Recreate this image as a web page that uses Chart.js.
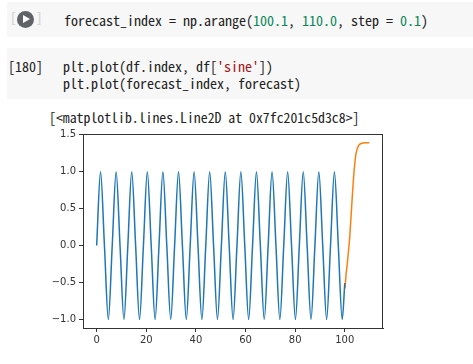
<!DOCTYPE html>
<html>
<head>
<meta charset="utf-8">
<script src="https://cdn.jsdelivr.net/npm/chart.js@4"></script>
<style>
  body { margin: 0; background: #fff; width: 473px; height: 364px; position: relative; overflow: hidden; }
  .cell { position: absolute; left: 7px; right: 0; background: #f7f7f7; }
  .code { position: absolute; font-family: "Noto Sans Mono CJK KR", "DejaVu Sans Mono", monospace; font-size: 14px; color: #222; white-space: pre; line-height: 16.5px; }
  .num { color: #098658; }
  .str { color: #a31515; }
  .brk { position: absolute; font-family: "DejaVu Sans Mono", monospace; font-size: 14px; color: #d6d6d6; }
  .run { position: absolute; left: 17px; top: 11px; width: 17px; height: 17px; border-radius: 50%; background: #5f6368; }
  .run:after { content: ""; position: absolute; left: 6px; top: 4px; border-left: 7px solid #fff; border-top: 4.5px solid transparent; border-bottom: 4.5px solid transparent; }
  #chart { position: absolute; left: 40px; top: 125px; }
</style>
</head>
<body>
<div class="cell" style="top:2px;height:35px"></div>
<div class="brk" style="left:9px;top:10px">[</div>
<div class="brk" style="left:35px;top:10px">]</div>
<div class="run"></div>
<div class="code" style="left:64px;top:12px">forecast_index = np.arange(<span class="num">100.1</span>, <span class="num">110.0</span>, step = <span class="num">0.1</span>)</div>

<div class="cell" style="top:48px;height:51px"></div>
<div class="code" style="left:8px;top:58px">[180]</div>
<div class="code" style="left:63px;top:58px">plt.plot(df.index, df[<span class="str">'sine'</span>])
plt.plot(forecast_index, forecast)</div>
<div class="code" style="left:49px;top:109px;font-size:13.8px">[&lt;matplotlib.lines.Line2D at 0x7fc201c5d3c8&gt;]</div>

<canvas id="chart" width="360" height="225"></canvas>
<script>
// df['sine']: zero crossings and extrema
const sineX = [0, 1.57, 3.14, 4.71, 6.28, 7.85, 9.42, 11.00, 12.57, 14.14, 15.71, 17.28,
  18.85, 20.42, 21.99, 23.56, 25.13, 26.70, 28.27, 29.85, 31.42, 32.99, 34.56, 36.13,
  37.70, 39.27, 40.84, 42.41, 43.98, 45.55, 47.12, 48.69, 50.27, 51.84, 53.41, 54.98,
  56.55, 58.12, 59.69, 61.26, 62.83, 64.40, 65.97, 67.54, 69.12, 70.69, 72.26, 73.83,
  75.40, 76.97, 78.54, 80.11, 81.68, 83.25, 84.82, 86.39, 87.96, 89.54, 91.11, 92.68,
  94.25, 95.82, 97.39, 98.96, 100.0];
const sineY = [0, 1, 0, -1, 0, 1, 0, -1, 0, 1, 0, -1, 0, 1, 0, -1,
  0, 1, 0, -1, 0, 1, 0, -1, 0, 1, 0, -1, 0, 1, 0, -1,
  0, 1, 0, -1, 0, 1, 0, -1, 0, 1, 0, -1, 0, 1, 0, -1,
  0, 1, 0, -1, 0, 1, 0, -1, 0, 1, 0, -1, 0, 1, 0, -1, -0.51];

// forecast
const forecastX = [100.1, 100.5, 101.0, 101.5, 102.0, 102.5, 103.0, 103.5, 104.0, 104.5, 105.0, 105.5, 106.0, 107.0, 108.0, 109.9];
const forecastY = [-0.58, -0.40, -0.25, -0.07, 0.12, 0.38, 0.65, 0.90, 1.10, 1.24, 1.31, 1.35, 1.37, 1.385, 1.39, 1.39];

const xTicks = [0, 20, 40, 60, 80, 100];
const yTicks = [-1.0, -0.5, 0.0, 0.5, 1.0, 1.5];

const toPts = (xs, ys) => xs.map((x, i) => ({ x: x, y: ys[i] }));

const framePlugin = {
  id: 'frame',
  afterDraw(chart) {
    const a = chart.chartArea, c = chart.ctx;
    c.save();
    c.strokeStyle = '#333';
    c.lineWidth = 1;
    c.strokeRect(a.left + 0.5, a.top + 0.5, a.right - a.left - 1, a.bottom - a.top);
    c.restore();
  }
};

const tickFont = { family: 'DejaVu Sans', size: 10 };

new Chart(document.getElementById('chart').getContext('2d'), {
  type: 'line',
  data: {
    datasets: [
      { data: toPts(sineX, sineY), borderColor: '#1f77b4', borderWidth: 1.5, cubicInterpolationMode: 'monotone' },
      { data: toPts(forecastX, forecastY), borderColor: '#ff7f0e', borderWidth: 1.5, cubicInterpolationMode: 'monotone' }
    ]
  },
  options: {
    responsive: false,
    animation: false,
    layout: { padding: { top: 8, right: 17, left: 0, bottom: 0 } },
    elements: { point: { radius: 0 } },
    plugins: { legend: { display: false }, tooltip: { enabled: false } },
    scales: {
      x: {
        type: 'linear', min: -5.5, max: 115.4,
        afterBuildTicks: s => { s.ticks = xTicks.map(v => ({ value: v })); },
        afterFit: s => { s.height = 22; },
        grid: { drawOnChartArea: false, drawTicks: true, tickLength: 4, color: '#333' },
        border: { display: true, color: '#333' },
        ticks: { font: tickFont, color: '#333', padding: 2, maxRotation: 0, autoSkip: false }
      },
      y: {
        min: -1.117, max: 1.51,
        afterBuildTicks: s => { s.ticks = yTicks.map(v => ({ value: v })); },
        afterFit: s => { s.width = 43; },
        grid: { drawOnChartArea: false, drawTicks: true, tickLength: 4, color: '#333' },
        border: { display: true, color: '#333' },
        ticks: {
          font: tickFont, color: '#333', padding: 3, autoSkip: false,
          callback: v => (v < 0 ? '\u2212' : '') + Math.abs(v).toFixed(1)
        }
      }
    }
  },
  plugins: [framePlugin]
});
</script>
</body>
</html>
